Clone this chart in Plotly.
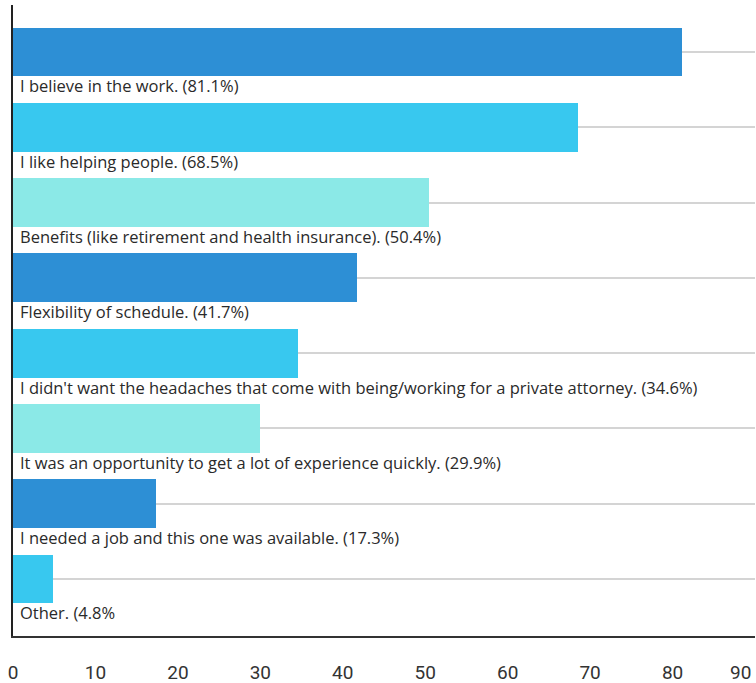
import plotly.graph_objects as go

# Survey responses: reasons for taking the job (% of respondents)
reasons = [
    "I believe in the work.",
    "I like helping people.",
    "Benefits (like retirement and health insurance).",
    "Flexibility of schedule.",
    "I didn't want the headaches that come with being/working for a private attorney.",
    "It was an opportunity to get a lot of experience quickly.",
    "I needed a job and this one was available.",
    "Other.",
]
shares = [81.1, 68.5, 50.4, 41.7, 34.6, 29.9, 17.3, 4.8]
bar_colors = ["#2d8fd5", "#38c8ef", "#8be9e7"] * 3
x_ticks = [0, 10, 20, 30, 40, 50, 60, 70, 80, 90]

positions = list(range(len(reasons)))

fig = go.Figure()
fig.add_trace(go.Bar(
    x=shares,
    y=positions,
    orientation="h",
    width=0.65,
    marker=dict(color=bar_colors[:len(reasons)], line=dict(width=0)),
    hovertext=reasons,
    showlegend=False,
))

# Category label under each bar, with its percentage
for pos, reason, share in zip(positions, reasons, shares):
    pct = f"({share}%)" if reason != "Other." else f"({share}%"
    fig.add_annotation(
        x=0, y=pos + 0.45, xref="x", yref="y",
        text=f"{reason} {pct}",
        showarrow=False, xanchor="left", yanchor="middle", xshift=5,
        font=dict(family="Open Sans", size=16.5, color="#2a2a2a"),
    )

# Last tick label sits at the right edge, so anchor it inward
fig.add_annotation(
    x=x_ticks[-1], y=0, xref="x", yref="paper",
    text=str(x_ticks[-1]), showarrow=False, borderpad=0,
    xanchor="right", yanchor="middle", yshift=-36, xshift=-3,
    font=dict(family="Roboto", size=19, color="#333333"),
)

fig.update_layout(
    width=756, height=683,
    margin=dict(l=13, r=1, t=5, b=47),
    paper_bgcolor="white",
    plot_bgcolor="white",
    bargap=0,
    xaxis=dict(
        range=[0, 90],
        tickvals=x_ticks[:-1],
        showgrid=False, zeroline=False,
        showline=True, linecolor="#333333", linewidth=2,
        ticks="", ticklabelstandoff=18, automargin=False,
        tickfont=dict(family="Roboto", size=19, color="#333333"),
    ),
    yaxis=dict(
        range=[7.757, -0.624],
        tickvals=positions, showticklabels=False,
        showgrid=True, gridcolor="#d4d4d4", gridwidth=1.5,
        zeroline=False, automargin=False,
        showline=True, linecolor="#222222", linewidth=2,
        ticks="",
    ),
)

fig.write_html("out.html")
